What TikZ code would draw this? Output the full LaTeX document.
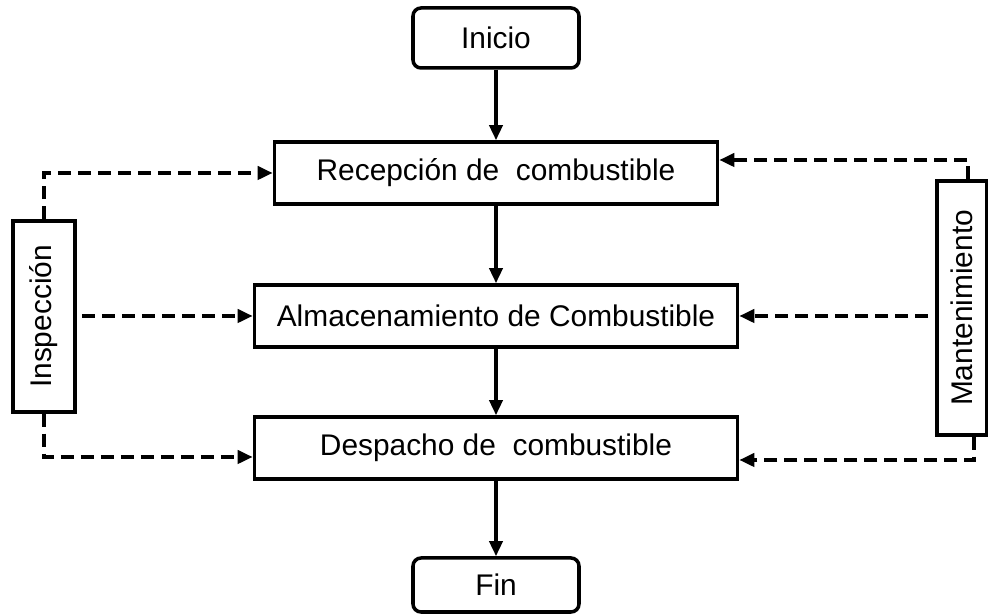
\documentclass[tikz,border=0pt]{standalone}
\usepackage{fontspec}
\setmainfont{Liberation Sans}
\usetikzlibrary{arrows.meta}

\begin{document}
\begin{tikzpicture}[
    stage/.style={draw, line width=2pt, minimum height=1.24cm, inner sep=0pt, font=\fontsize{17}{20}\selectfont},
    term/.style={stage, rounded corners=0.16cm, minimum width=3.32cm},
    side/.style={stage, minimum width=1.24cm, minimum height=3.82cm},
    flow/.style={line width=2pt, -{Triangle[length=0.3cm, width=0.26cm]}},
    aux/.style={flow, line width=2.4pt, dash pattern=on 0.26cm off 0.14cm}
]
    \useasboundingbox (0, 0) rectangle (19.76, 12.3);

    % Process nodes
    \path
    (9.92, 11.54) node[term, minimum height=1.2cm] (inicio) {Inicio}
    (9.92, 8.84) node[stage, minimum width=8.86cm] (recep) {Recepción de\ \ combustible}
    (9.92, 5.98) node[stage, minimum width=9.66cm] (alm) {Almacenamiento de Combustible}
    (9.92, 3.34) node[stage, minimum width=9.66cm] (desp) {Despacho de\ \ combustible}
    (9.92, 0.6) node[term, minimum height=1.08cm] (fin) {Fin}
    ;

    % Side nodes
    \path
    (0.88, 5.97) node[side] (insp) {\rotatebox{90}{Inspección}}
    (19.24, 6.14) node[side, minimum width=1.0cm, minimum height=5.08cm] (mant) {\rotatebox{90}{Mantenimiento}}
    ;

    % Main flow
    \draw[flow] (inicio) -- (recep);
    \draw[flow] (recep) -- (alm);
    \draw[flow] (alm) -- (desp);
    \draw[flow] (desp) -- (fin);

    % Inspection links
    \draw[aux] (insp.north) |- (recep.west);
    \draw[aux, shorten <=0.1cm] (alm.west -| insp.east) -- (alm.west);
    \draw[aux] (insp.south) |- ([yshift=-0.18cm]desp.west);

    % Maintenance links
    \draw[aux] ([xshift=0.12cm]mant.north) |- ([yshift=0.26cm]recep.east);
    \draw[aux, shorten <=0.14cm] (alm.east -| mant.west) -- (alm.east);
    \draw[aux] ([xshift=0.24cm]mant.south) |- ([yshift=-0.24cm]desp.east);

\end{tikzpicture}
\end{document}
